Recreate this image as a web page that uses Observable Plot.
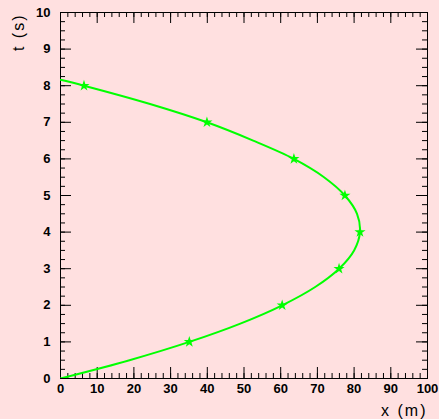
<!DOCTYPE html>
<html>
<head>
<meta charset="utf-8">
<script src="https://cdn.jsdelivr.net/npm/d3@7"></script>
<script src="https://cdn.jsdelivr.net/npm/@observablehq/plot@0.6"></script>
<style>
  html, body { margin: 0; padding: 0; background: #ffe0e0; }
  #chart svg { display: block; }
  .atitle text { letter-spacing: 2px; }
</style>
</head>
<body>
<div id="chart"></div>
<script>
// curve (time t in s, distance x in m)
const lineT = [0, 0.5, 1, 1.5, 2, 2.5, 3, 3.5, 4, 4.5, 5, 5.5, 6, 6.5, 7, 7.5, 8, 8.16];
const lineX = [0, 18.8, 35.1, 49.0, 60.4, 69.4, 75.9, 80.0, 81.6, 80.8, 77.5, 71.8, 63.6, 52.5, 39.9, 24.4, 6.4, 0];
// star markers
const markT = [1, 2, 3, 4, 5, 6, 7, 8];
const markX = [35.1, 60.4, 75.9, 81.6, 77.5, 63.6, 39.9, 6.4];
// ticks
const xMajor = [0, 10, 20, 30, 40, 50, 60, 70, 80, 90, 100];
const xMinor = d3.range(0, 100.1, 2);
const yMajor = [0, 1, 2, 3, 4, 5, 6, 7, 8, 9, 10];
const yMinor = d3.range(0, 10.01, 0.25);

const W = 439, H = 419;
const mL = 60, mR = 12, mT = 12, mB = 41;
const pw = W - mL - mR, ph = H - mT - mB;

const lineData = lineT.map((t, i) => ({t, x: lineX[i]}));
const markData = markT.map((t, i) => ({t, x: markX[i]}));

const font = "'Liberation Sans', Arial, Helvetica, sans-serif";

const chart = Plot.plot({
  width: W, height: H,
  marginLeft: mL, marginRight: mR, marginTop: mT, marginBottom: mB,
  style: {background: "#ffe0e0", fontFamily: font},
  x: {domain: [0, 100]},
  y: {domain: [0, 10]},
  marks: [
    // ticks: bottom / top
    Plot.tickX(xMajor, {x: d => d, stroke: "black", insetTop: ph - 11}),
    Plot.tickX(xMinor, {x: d => d, stroke: "black", insetTop: ph - 5}),
    Plot.tickX(xMajor, {x: d => d, stroke: "black", insetBottom: ph - 11}),
    Plot.tickX(xMinor, {x: d => d, stroke: "black", insetBottom: ph - 5}),
    // ticks: left / right
    Plot.tickY(yMajor, {y: d => d, stroke: "black", insetRight: pw - 11}),
    Plot.tickY(yMinor, {y: d => d, stroke: "black", insetRight: pw - 5}),
    Plot.tickY(yMajor, {y: d => d, stroke: "black", insetLeft: pw - 11}),
    Plot.tickY(yMinor, {y: d => d, stroke: "black", insetLeft: pw - 5}),
    Plot.axisX({ticks: xMajor, tickSize: 0, tickPadding: 5, fontSize: 13, fontWeight: "bold", fill: "black", label: null}),
    Plot.axisY({ticks: yMajor, tickSize: 0, tickPadding: 10, fontSize: 13, fontWeight: "bold", fill: "black", label: null}),
    Plot.frame({stroke: "black", strokeWidth: 1}),
    Plot.line(lineData, {x: "x", y: "t", curve: "catmull-rom", stroke: "#00ff00", strokeWidth: 2, clip: true}),
    Plot.dot(markData, {x: "x", y: "t", symbol: "star", r: 3.5, fill: "#00ff00", stroke: "none"}),
    Plot.text(["x (m)"], {frameAnchor: "bottom-right", dy: 37, dx: 0, textAnchor: "end", lineAnchor: "bottom", fontSize: 16, fill: "black", className: "atitle"}),
    Plot.text(["t (s)"], {frameAnchor: "top-left", dx: -42, dy: 1, rotate: -90, textAnchor: "end", lineAnchor: "middle", fontSize: 16, fill: "black", className: "atitle"})
  ]
});
document.getElementById("chart").appendChild(chart);
</script>
</body>
</html>
